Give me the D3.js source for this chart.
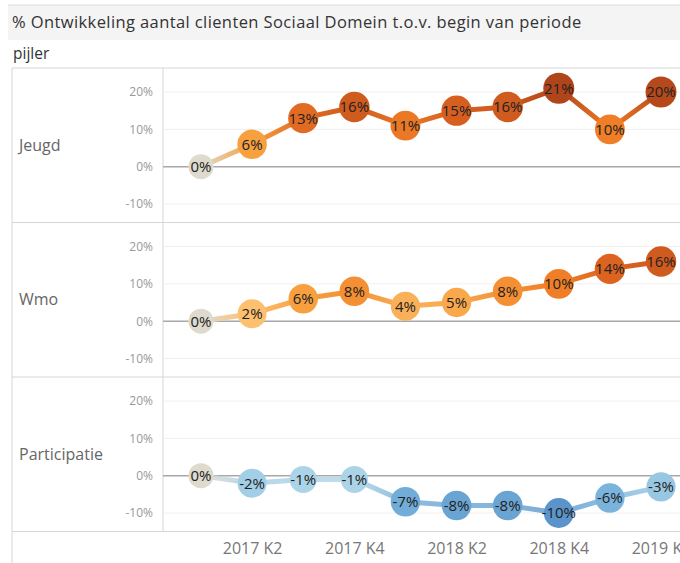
<!DOCTYPE html>
<html>
<head>
<meta charset="utf-8">
<script src="https://cdn.jsdelivr.net/npm/d3@7"></script>
<style>
  body { margin: 0; background: #fff; }
  svg { display: block; font-family: "Open Sans", sans-serif; }
</style>
</head>
<body>
<div id="chart"></div>
<script>
// data
const quarters = ["2017 K1", "2017 K2", "2017 K3", "2017 K4", "2018 K1", "2018 K2", "2018 K3", "2018 K4", "2019 K1", "2019 K2"];
const tickQuarters = ["2017 K2", "2017 K4", "2018 K2", "2018 K4", "2019 K2"];
const pillars = ["Jeugd", "Wmo", "Participatie"];
const jeugd = [0, 6, 13, 16, 11, 15, 16, 21, 10, 20];
const wmo = [0, 2, 6, 8, 4, 5, 8, 10, 14, 16];
const participatie = [0, -2, -1, -1, -7, -8, -8, -10, -6, -3];
const yTicks = [20, 10, 0, -10];
const seriesValues = [jeugd, wmo, participatie];

const W = 680, H = 563;
const left = 12, split = 163;
const rowTop = 68, rowH = 154.5;

const svg = d3.select("#chart").append("svg")
    .attr("width", W)
    .attr("height", H);

const defs = svg.append("defs");

// title band
svg.append("rect")
    .attr("x", 8).attr("y", 5)
    .attr("width", W - 8).attr("height", 35)
    .attr("fill", "#f4f4f4");
svg.append("line")
    .attr("x1", 8).attr("x2", W).attr("y1", 5).attr("y2", 5)
    .attr("stroke", "#dcdcdc");
svg.append("text")
    .attr("x", 12).attr("y", 28)
    .attr("font-size", 16.5)
    .attr("letter-spacing", 0.4)
    .attr("fill", "#333")
    .text("% Ontwikkeling aantal clienten Sociaal Domein t.o.v. begin van periode");

svg.append("text")
    .attr("x", 13).attr("y", 59)
    .attr("font-size", 15.5)
    .attr("fill", "#333")
    .text("pijler");

// scales
const x = d3.scalePoint()
    .domain(quarters)
    .range([201, 661]);

const y = d3.scaleLinear()
    .domain([-10, 20])
    .range([136, 24]);

const color = d3.scaleLinear()
    .domain([-10, -6, -1, 0, 2, 6, 10, 14, 21])
    .range(["#5a94ca", "#7ab4dc", "#acd4e8", "#dedacd", "#fdc070", "#f7a040", "#f07e26", "#dc6420", "#b0441a"])
    .clamp(true);

const radius = d3.scaleLinear()
    .domain([0, 2, 21])
    .range([12.5, 14.5, 15.5])
    .clamp(true);

// grid borders
const gridColor = "#d6d6d6";
svg.append("line")
    .attr("x1", left).attr("x2", left).attr("y1", rowTop).attr("y2", H)
    .attr("stroke", gridColor);
svg.append("line")
    .attr("x1", split).attr("x2", split)
    .attr("y1", rowTop).attr("y2", rowTop + rowH * 3)
    .attr("stroke", gridColor);
d3.range(4).forEach(i => {
    svg.append("line")
        .attr("x1", left).attr("x2", W)
        .attr("y1", rowTop + rowH * i).attr("y2", rowTop + rowH * i)
        .attr("stroke", gridColor);
});

pillars.forEach((name, pi) => {
    const values = seriesValues[pi];
    const g = svg.append("g")
        .attr("transform", `translate(0,${rowTop + rowH * pi})`);

    g.append("text")
        .attr("x", 19).attr("y", rowH / 2)
        .attr("dy", "0.35em")
        .attr("font-size", 16)
        .attr("fill", "#666")
        .text(name);

    // gridlines
    g.selectAll(".grid")
        .data(yTicks.filter(t => t !== 0))
        .join("line")
        .attr("x1", split).attr("x2", W)
        .attr("y1", d => y(d)).attr("y2", d => y(d))
        .attr("stroke", "#f0f0f0");

    // y axis
    const axis = g.append("g")
        .attr("transform", `translate(${split - 7},0)`)
        .call(d3.axisLeft(y).tickValues(yTicks).tickSize(0).tickFormat(d => d + "%"));
    axis.select(".domain").remove();
    axis.selectAll("text")
        .attr("font-family", "Open Sans, sans-serif")
        .attr("font-size", 12)
        .attr("fill", "#999");

    // zero line
    g.append("line")
        .attr("x1", split).attr("x2", W)
        .attr("y1", y(0)).attr("y2", y(0))
        .attr("stroke", "#a8a8a8")
        .attr("stroke-width", 1.5);

    // line segments with gradient
    const segs = d3.pairs(values.map((v, i) => ({ q: quarters[i], v })));
    segs.forEach((s, si) => {
        const id = `grad-${pi}-${si}`;
        const grad = defs.append("linearGradient")
            .attr("id", id)
            .attr("gradientUnits", "userSpaceOnUse")
            .attr("x1", x(s[0].q)).attr("x2", x(s[1].q))
            .attr("y1", y(s[0].v)).attr("y2", y(s[1].v));
        grad.append("stop").attr("offset", "0%").attr("stop-color", color(s[0].v));
        grad.append("stop").attr("offset", "100%").attr("stop-color", color(s[1].v));
        g.append("line")
            .attr("x1", x(s[0].q)).attr("x2", x(s[1].q))
            .attr("y1", y(s[0].v)).attr("y2", y(s[1].v))
            .attr("stroke", `url(#${id})`)
            .attr("stroke-width", 5)
            .attr("stroke-linecap", "round")
            .attr("opacity", pi === 2 ? 0.8 : 1);
    });

    const pts = values.map((v, i) => ({ q: quarters[i], v }));
    g.selectAll(".dot")
        .data(pts)
        .join("circle")
        .attr("cx", d => x(d.q))
        .attr("cy", d => y(d.v))
        .attr("r", d => radius(Math.abs(d.v)))
        .attr("fill", d => color(d.v));

    g.selectAll(".lbl")
        .data(pts)
        .join("text")
        .attr("x", d => x(d.q))
        .attr("y", d => y(d.v))
        .attr("dy", "0.36em")
        .attr("text-anchor", "middle")
        .attr("font-size", 15)
        .attr("fill", "#222")
        .text(d => d.v + "%");
});

// x axis labels
const xAxis = svg.append("g")
    .attr("transform", `translate(0,${rowTop + rowH * 3 + 8})`)
    .call(d3.axisBottom(x).tickValues(tickQuarters).tickSize(0));
xAxis.select(".domain").remove();
xAxis.selectAll("text")
    .attr("font-family", "Open Sans, sans-serif")
    .attr("font-size", 16)
    .attr("fill", "#777");
</script>
</body>
</html>
